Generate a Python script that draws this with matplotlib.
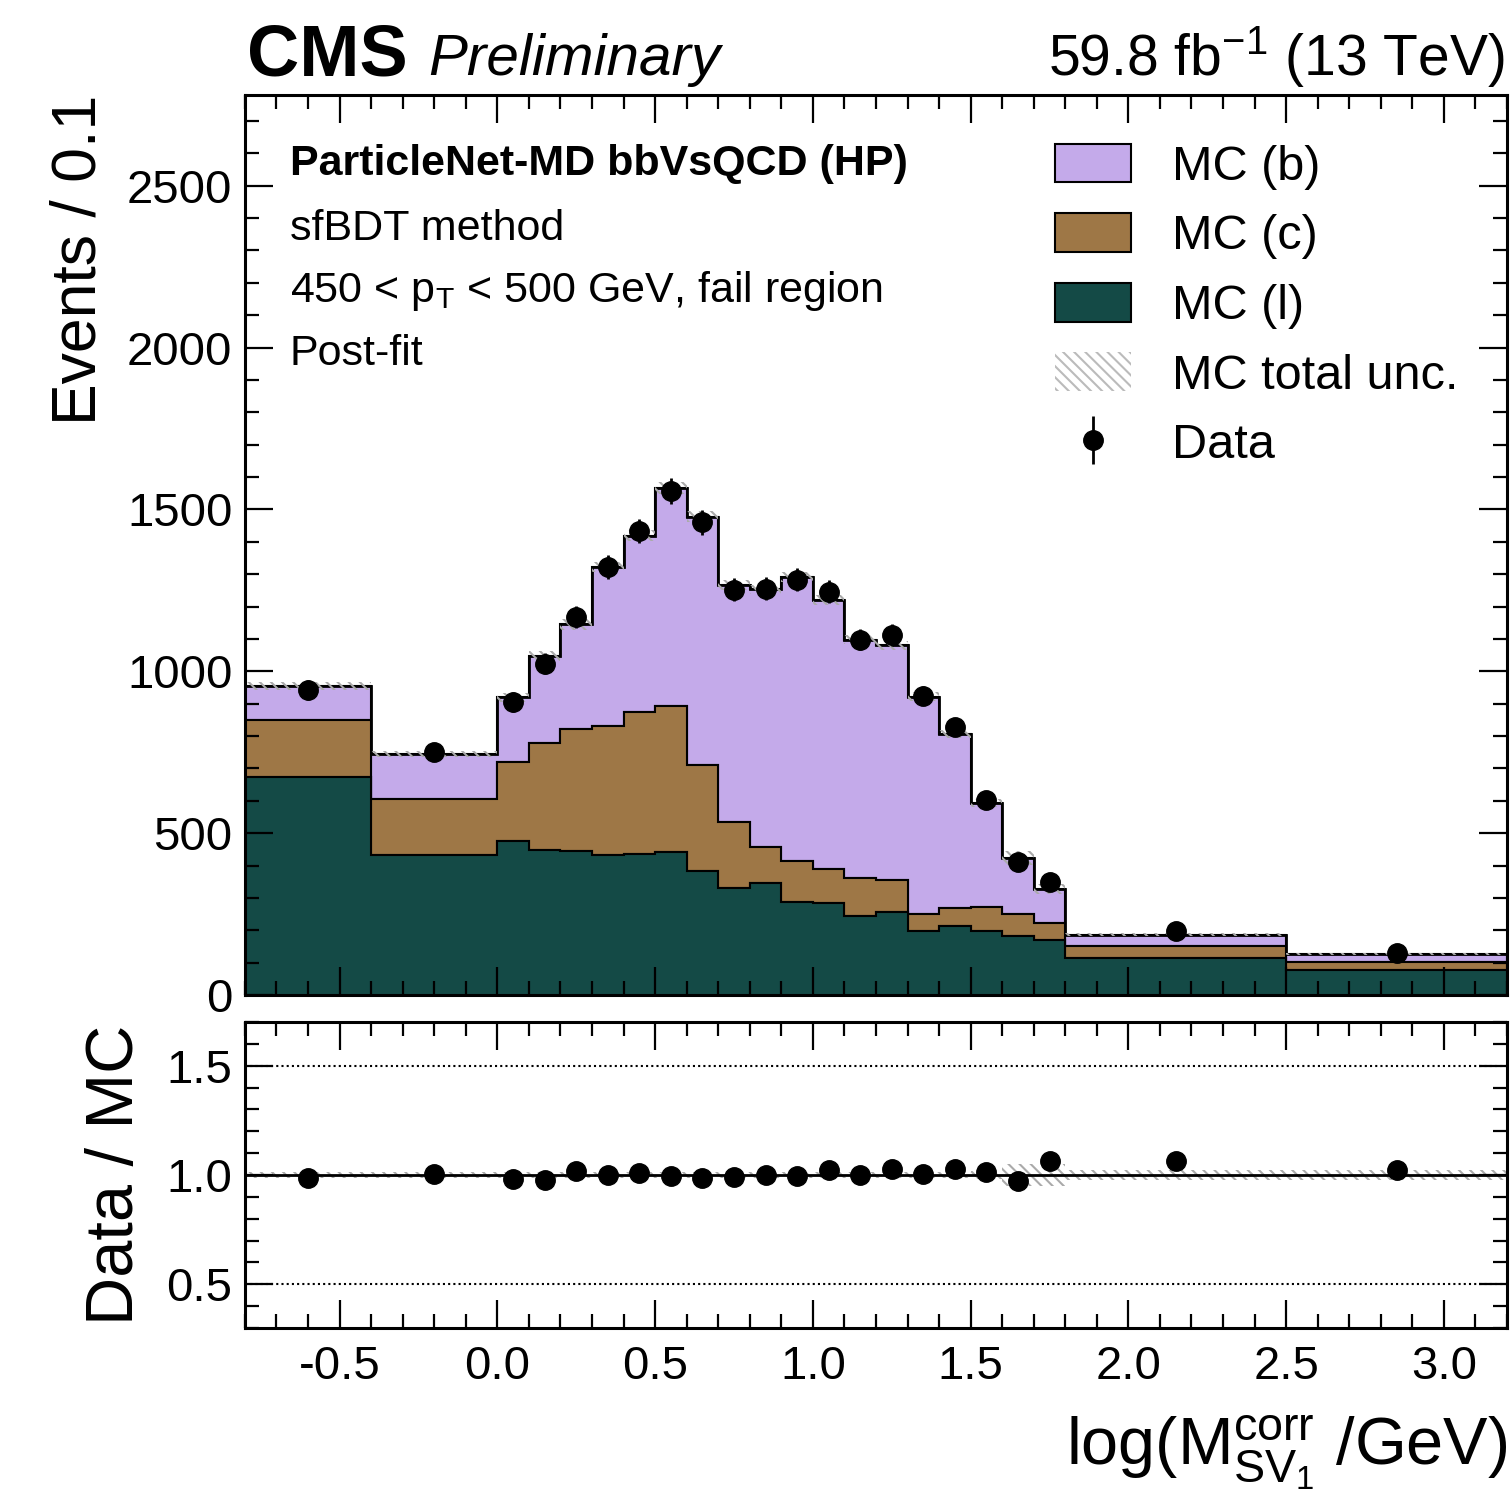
import numpy as np
import matplotlib
matplotlib.use("Agg")
import matplotlib.pyplot as plt
from matplotlib.patches import Patch
from matplotlib.ticker import MultipleLocator

plt.rcParams["font.family"] = ["Liberation Sans", "DejaVu Sans"]
plt.rcParams["mathtext.fontset"] = "custom"
plt.rcParams["mathtext.rm"] = "Liberation Sans"
plt.rcParams["mathtext.it"] = "Liberation Sans:italic"
plt.rcParams["mathtext.bf"] = "Liberation Sans:bold"
plt.rcParams["axes.unicode_minus"] = False
plt.rcParams["hatch.linewidth"] = 1.5

# binning of log(M_SV1^corr / GeV)
edges = [-0.8, -0.4, 0.0, 0.1, 0.2, 0.3, 0.4, 0.5, 0.6, 0.7, 0.8, 0.9,
         1.0, 1.1, 1.2, 1.3, 1.4, 1.5, 1.6, 1.7, 1.8, 2.5, 3.2]

# post-fit MC per flavour (events per bin)
mc_l = [672, 433, 477, 449, 444, 431, 436, 441, 383, 330, 346, 287,
        284, 245, 255, 197, 213, 199, 181, 170, 113, 77]
mc_c = [177, 173, 244, 330, 378, 399, 438, 453, 327, 205, 111, 128,
        104, 117, 99, 53, 55, 74, 69, 53, 39, 24]
mc_b = [105, 139, 199, 269, 323, 492, 544, 671, 768, 731, 796, 875,
        832, 736, 726, 672, 539, 321, 173, 104, 34, 25]
data = [942, 750, 905, 1024, 1167, 1322, 1434, 1557, 1460, 1252, 1255, 1283,
        1246, 1098, 1112, 925, 828, 601, 411, 348, 198, 129]
# relative MC total uncertainty
mc_unc = [0.012, 0.012, 0.015, 0.015, 0.015, 0.012, 0.012, 0.012, 0.012, 0.012, 0.012, 0.012,
          0.012, 0.012, 0.012, 0.015, 0.015, 0.02, 0.05, 0.05, 0.025, 0.025]
# ratio uncertainty shown on the points
ratio_unc = [0.03, 0.03, 0.03, 0.03, 0.03, 0.03, 0.03, 0.03, 0.03, 0.03, 0.03, 0.03,
             0.03, 0.03, 0.03, 0.03, 0.03, 0.03, 0.035, 0.035, 0.035, 0.03]

col_b = "#c4aaea"
col_c = "#9e7746"
col_l = "#144a46"

edges = np.array(edges)
l = np.array(mc_l, float)
lc = l + np.array(mc_c)
tot = lc + np.array(mc_b)
d = np.array(data, float)
unc = np.array(mc_unc)
centers = 0.5 * (edges[1:] + edges[:-1])

fig = plt.figure(figsize=(15.12, 14.90), dpi=100)
ax = fig.add_axes([0.1620, 0.3322, 0.8347, 0.6040])
rax = fig.add_axes([0.1620, 0.1087, 0.8347, 0.2054], sharex=ax)

# stacked histogram
ax.stairs(tot, edges, baseline=lc, fill=True, facecolor=col_b, edgecolor="k", lw=1.5, label="MC (b)")
ax.stairs(lc, edges, baseline=l, fill=True, facecolor=col_c, edgecolor="k", lw=1.5, label="MC (c)")
ax.stairs(l, edges, baseline=0, fill=True, facecolor=col_l, edgecolor="k", lw=1.5, label="MC (l)")
ax.stairs(tot, edges, baseline=None, color="k", lw=2)
ax.stairs(tot * (1 + unc), edges, baseline=tot * (1 - unc), fill=True, hatch="\\\\\\",
          facecolor="none", edgecolor="#aaaaaa", lw=0)
unc_patch = Patch(facecolor="none", edgecolor="#bbbbbb", hatch="\\\\\\", lw=0, label="MC total unc.")
eb = ax.errorbar(centers, d, yerr=np.sqrt(d), fmt="o", color="k", ms=14, elinewidth=2,
                 capsize=0, label="Data")

ax.set_xlim(-0.8, 3.2)
ax.set_ylim(0, 2780)
ax.set_ylabel("Events / 0.1", fontsize=45, loc="top")
ax.yaxis.set_label_coords(-0.108, 1.0)

h, lab = ax.get_legend_handles_labels()
handles = [h[0], h[1], h[2], unc_patch, eb]
labels = ["MC (b)", "MC (c)", "MC (l)", "MC total unc.", "Data"]
ax.legend(handles, labels, loc="upper left", bbox_to_anchor=(0.642, 0.946), frameon=False,
          fontsize=35, handlelength=1.55, handleheight=0.85, handletextpad=0.85,
          labelspacing=0.48, borderpad=0, borderaxespad=0)

# annotations
ax.text(0.0357, 0.911, "ParticleNet-MD bbVsQCD (HP)", transform=ax.transAxes,
        fontsize=31, fontweight="bold", va="baseline")
ax.text(0.0357, 0.839, "sfBDT method", transform=ax.transAxes, fontsize=31, va="baseline")
ax.text(0.0357, 0.770, r"450 < $\mathrm{p_T}$ < 500 GeV, fail region", transform=ax.transAxes,
        fontsize=31, va="baseline")
ax.text(0.0357, 0.700, "Post-fit", transform=ax.transAxes, fontsize=31, va="baseline")

ax.text(0.002, 1.022, "CMS", transform=ax.transAxes, fontsize=52, fontweight="bold", va="baseline")
ax.text(0.145, 1.022, "Preliminary", transform=ax.transAxes, fontsize=42, style="italic", va="baseline")
ax.text(0.998, 1.022, r"59.8 fb$^{-1}$ (13 TeV)", transform=ax.transAxes, fontsize=41,
        ha="right", va="baseline")

# ratio panel
ratio = d / tot
rax.stairs(1 + unc, edges, baseline=1 - unc, fill=True, hatch="\\\\\\",
           facecolor="none", edgecolor="#aaaaaa", lw=0)
rax.axhline(1.0, color="k", lw=2)
rax.axhline(1.5, color="k", lw=1.5, ls=(0, (1, 1.5)))
rax.axhline(0.5, color="k", lw=1.5, ls=(0, (1, 1.5)))
rax.errorbar(centers, ratio, yerr=ratio_unc, fmt="o", color="k", ms=14, elinewidth=2, capsize=0)
rax.set_ylim(0.3, 1.7)
rax.set_ylabel("Data / MC", fontsize=48)
rax.yaxis.set_label_coords(-0.078, 0.5)
rax.set_xlabel(r"log(M$_{\mathrm{SV}_1}^{\mathrm{corr}}$ /GeV)", fontsize=48, loc="right")
rax.xaxis.set_label_coords(1.0, -0.28)

ax.xaxis.set_major_locator(MultipleLocator(0.5))
ax.xaxis.set_minor_locator(MultipleLocator(0.1))
ax.yaxis.set_major_locator(MultipleLocator(500))
ax.yaxis.set_minor_locator(MultipleLocator(100))
rax.yaxis.set_major_locator(MultipleLocator(0.5))
rax.yaxis.set_minor_locator(MultipleLocator(0.1))
rax.yaxis.set_major_formatter(matplotlib.ticker.FormatStrFormatter("%.1f"))
rax.xaxis.set_major_formatter(matplotlib.ticker.FormatStrFormatter("%.1f"))
plt.setp(ax.get_xticklabels(), visible=False)

for a in (ax, rax):
    a.tick_params(which="both", direction="in", top=True, right=True, labelsize=34)
    a.tick_params(which="major", length=20, width=1.6)
    a.tick_params(which="minor", length=10, width=1.6)
    a.tick_params(axis="y", pad=9)
    a.tick_params(axis="x", pad=12)
    for s in a.spines.values():
        s.set_linewidth(2.2)

fig.savefig("out.png", dpi=100)
